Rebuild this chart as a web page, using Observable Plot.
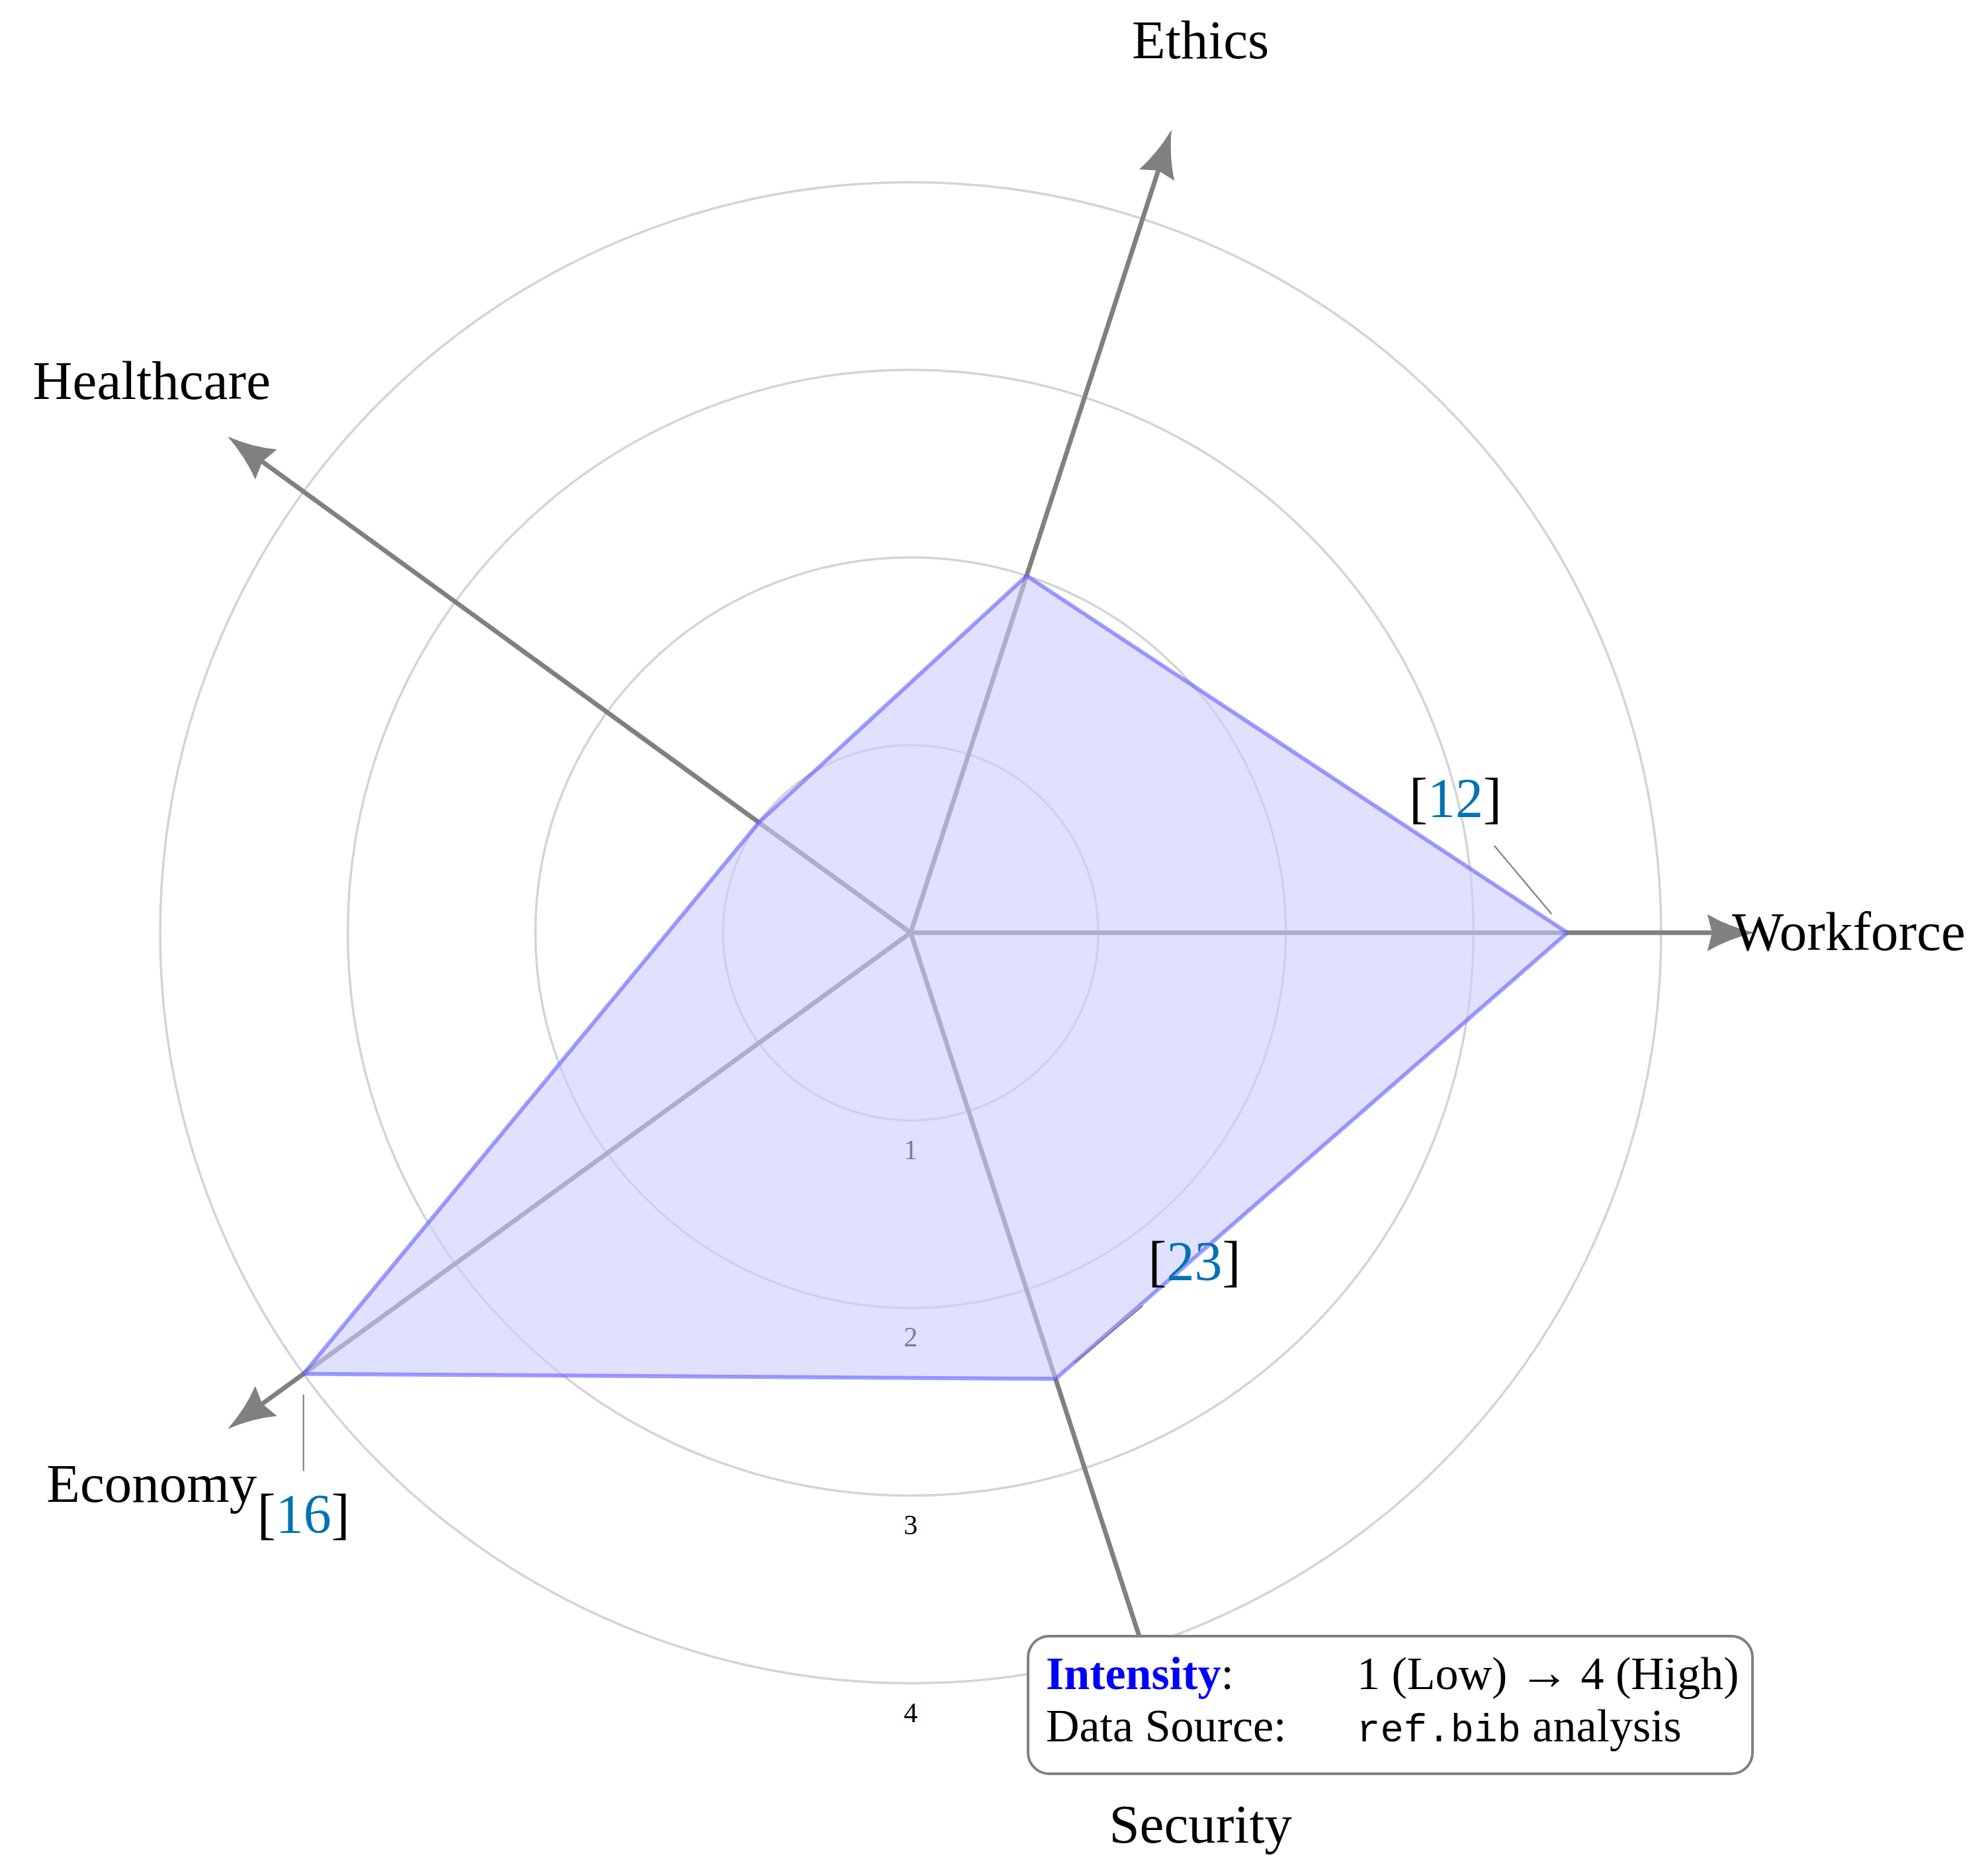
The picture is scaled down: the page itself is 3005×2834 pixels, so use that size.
<!DOCTYPE html>
<html>
<head>
<meta charset="utf-8">
<script src="https://cdn.jsdelivr.net/npm/d3@7"></script>
<script src="https://cdn.jsdelivr.net/npm/@observablehq/plot@0.6"></script>
<style>
  html, body { margin: 0; padding: 0; background: #fff; }
  #wrap { position: relative; width: 3005px; height: 2834px; overflow: hidden; }
  #legend {
    position: absolute; left: 1552px; top: 2471px; width: 1099px; height: 212px;
    box-sizing: border-box; border: 4px solid #808080; border-radius: 34px; background: #fff;
    padding: 15px 0 0 25px; font-family: "Liberation Serif", serif; font-size: 70px; line-height: 79px; color: #000;
  }
  #legend .row { display: flex; white-space: nowrap; }
  #legend .k { width: 470px; }
  #legend .hl { color: #0000ff; font-weight: bold; }
  #legend .mono { font-family: "Liberation Mono", monospace; font-size: 59px; }
  #legend .arr { font-size: 76px; line-height: 0; }
</style>
</head>
<body>
<div id="wrap"></div>
<script>
// ---- data ----
const axes = ["Workforce", "Ethics", "Healthcare", "Economy", "Security"];
const values = [3.5, 2, 1, 4, 2.5];
const ringLevels = [1, 2, 3, 4];
const citations = [
  { axis: "Workforce", ref: "12" },
  { axis: "Security", ref: "23" },
  { axis: "Economy", ref: "16" }
];
const legendKeys = ["Intensity", "Data Source"];
const legendValues = [["1 (Low) ", "\u2192", " 4 (High)"], ["ref.bib", " analysis"]];

// ---- layout (pixels / styling) ----
const W = 3005, H = 2834, CX = 1376, CY = 1409.3, U = 283.6;
const axisTip = 4.5, labelRadius = 5;
const pinLayout = {
  "12": { angle: 130, start: 37, end: 172, label: 263 },
  "23": { angle: 40, start: 38, end: 172, label: 274 },
  "16": { angle: 270, start: 31, end: 147, label: 214 }
};
const rad = (d) => (d * Math.PI) / 180;

const pts = axes.map((a, i) => ({ axis: a, value: values[i], deg: 72 * i }));
const byAxis = new Map(pts.map((p) => [p.axis, p]));
const cites = citations.map((c) => {
  const p = byAxis.get(c.axis);
  const vx = p.value * Math.cos(rad(p.deg)), vy = p.value * Math.sin(rad(p.deg));
  const L = pinLayout[c.ref], ca = Math.cos(rad(L.angle)), sa = Math.sin(rad(L.angle));
  return {
    ...c,
    x1: vx + (L.start / U) * ca, y1: vy + (L.start / U) * sa,
    x2: vx + (L.end / U) * ca, y2: vy + (L.end / U) * sa,
    lx: vx + (L.label / U) * ca, ly: vy + (L.label / U) * sa
  };
});

const arrowHead = {
  draw(ctx, l) {
    const w = 56;
    ctx.moveTo(0, -l);
    ctx.quadraticCurveTo(w * 0.16, -l * 0.45, w / 2, 0);
    ctx.lineTo(0, -l * 0.1);
    ctx.lineTo(-w / 2, 0);
    ctx.quadraticCurveTo(-w * 0.16, -l * 0.45, 0, -l);
    ctx.closePath();
  }
};

const citeFont = 84;
const plot = Plot.plot({
  width: W,
  height: H,
  margin: 0,
  x: { domain: [-CX / U, (W - CX) / U], axis: null },
  y: { domain: [-(H - CY) / U, CY / U], axis: null },
  r: { type: "linear", domain: [0, 1], range: [0, U] },
  style: { fontFamily: "'Liberation Serif', serif", background: "white", overflow: "visible" },
  marks: [
    Plot.dot(ringLevels, { x: () => 0, y: () => 0, r: (d) => d, stroke: "#d4d4d4", strokeWidth: 3.5, fill: "none" }),
    Plot.text(ringLevels, { x: () => 0, y: (d) => -d, text: (d) => String(d), dy: 45, fontSize: 42, fill: "black" }),
    Plot.link(pts, {
      x1: () => 0, y1: () => 0,
      x2: (d) => (axisTip - 0.1) * Math.cos(rad(d.deg)),
      y2: (d) => (axisTip - 0.1) * Math.sin(rad(d.deg)),
      stroke: "#808080", strokeWidth: 7
    }),
    Plot.vector(pts, {
      x: (d) => axisTip * Math.cos(rad(d.deg)),
      y: (d) => axisTip * Math.sin(rad(d.deg)),
      rotate: (d) => 90 - d.deg,
      length: 72,
      anchor: "end",
      shape: arrowHead,
      fill: "#808080",
      stroke: "none"
    }),
    Plot.line(pts, {
      x: (d) => d.value * Math.cos(rad(d.deg)),
      y: (d) => d.value * Math.sin(rad(d.deg)),
      curve: "linear-closed",
      fill: "#ccccff", fillOpacity: 0.6,
      stroke: "#5c5cff", strokeOpacity: 0.6, strokeWidth: 6, strokeLinejoin: "miter"
    }),
    Plot.link(cites, { x1: "x1", y1: "y1", x2: "x2", y2: "y2", stroke: "#808080", strokeWidth: 2.2 }),
    Plot.text(cites, { x: "lx", y: "ly", text: "ref", fill: "#0072b2", fontSize: citeFont, lineAnchor: "middle" }),
    Plot.text(cites, { x: "lx", y: "ly", text: () => "[", textAnchor: "end", dx: -citeFont / 2, fill: "black", fontSize: citeFont, lineAnchor: "middle" }),
    Plot.text(cites, { x: "lx", y: "ly", text: () => "]", textAnchor: "start", dx: citeFont / 2, fill: "black", fontSize: citeFont, lineAnchor: "middle" }),
    Plot.text(pts, {
      x: (d) => labelRadius * Math.cos(rad(d.deg)),
      y: (d) => labelRadius * Math.sin(rad(d.deg)),
      text: "axis", fontSize: 83, fill: "black", lineAnchor: "middle"
    })
  ]
});

const wrap = document.getElementById("wrap");
wrap.appendChild(plot);

// legend box (overlaid inside the chart area)
const legend = document.createElement("div");
legend.id = "legend";
legendKeys.forEach((k, i) => {
  const row = document.createElement("div");
  row.className = "row";
  const key = document.createElement("div");
  key.className = "k";
  if (i === 0) {
    const hl = document.createElement("span");
    hl.className = "hl";
    hl.textContent = k;
    key.appendChild(hl);
    key.appendChild(document.createTextNode(":"));
  } else {
    key.textContent = k + ":";
  }
  const val = document.createElement("div");
  const parts = legendValues[i];
  if (i === 0) {
    val.appendChild(document.createTextNode(parts[0]));
    const a = document.createElement("span");
    a.className = "arr";
    a.textContent = parts[1];
    val.appendChild(a);
    val.appendChild(document.createTextNode(parts[2]));
  } else {
    const m = document.createElement("span");
    m.className = "mono";
    m.textContent = parts[0];
    val.appendChild(m);
    val.appendChild(document.createTextNode(parts[1]));
  }
  row.appendChild(key);
  row.appendChild(val);
  legend.appendChild(row);
});
wrap.appendChild(legend);
</script>
</body>
</html>
